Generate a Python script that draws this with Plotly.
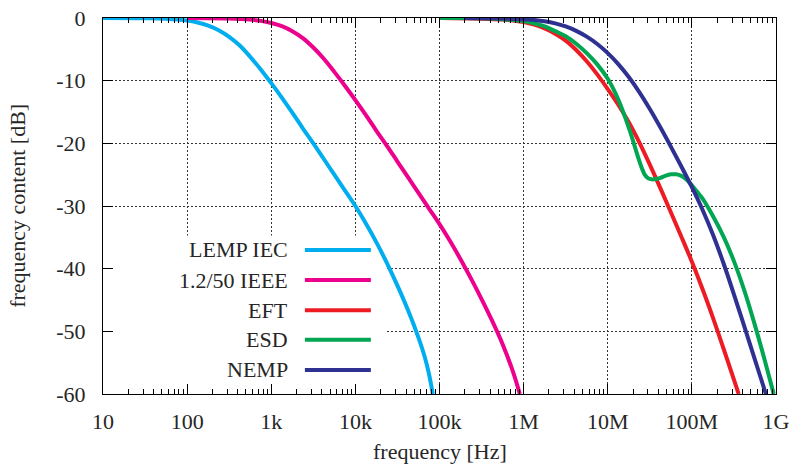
import plotly.graph_objects as go

# ---- data (frequency in Hz, spectrum in dB) ----
lemp_f = [10, 31.6, 56.2, 100, 133, 178, 237, 316, 422, 562, 750, 1000,
          1334, 1778, 2371, 3162, 4217, 5623, 7499, 10000,
          13340, 17780, 23710, 31620, 42170, 56230, 66800, 75000, 83200]
lemp_db = [0, -0.04, -0.13, -0.41, -0.71, -1.2, -1.94, -3.0, -4.4, -6.2, -8.2, -10.4,
           -12.7, -15.1, -17.6, -20.0, -22.5, -25.0, -27.5, -30.0,
           -32.8, -35.8, -39.1, -42.7, -46.6, -51.0, -54.1, -56.8, -60]

ieee_f = [100, 316, 562, 750, 1000, 1334, 1778, 2371, 3162, 4217, 5623, 7499,
          10000, 13340, 17780, 23710, 31620, 42170, 56230, 74990,
          100000, 133400, 177800, 237100, 316200, 421700, 562300, 749900, 901000]
ieee_db = [0, -0.08, -0.26, -0.46, -0.8, -1.3, -2.1, -3.2, -4.7, -6.5, -8.6, -10.8,
           -13.1, -15.5, -18.0, -20.4, -22.9, -25.4, -27.9, -30.4,
           -32.9, -35.6, -38.5, -41.6, -44.85, -48.3, -52.05, -56.5, -60]

eft_f = [1e5, 3.16e5, 5.62e5, 7.5e5, 1e6, 1.334e6, 1.778e6, 2.371e6, 3.162e6,
         4.217e6, 5.623e6, 7.499e6, 1e7, 1.334e7, 1.778e7, 2.371e7, 3.162e7,
         4.217e7, 5.623e7, 7.499e7, 1e8, 1.334e8, 1.778e8, 2.371e8, 3.162e8, 3.6e8]
eft_db = [0, -0.1, -0.25, -0.42, -0.65, -1.05, -1.65, -2.5, -3.6,
          -5.1, -6.9, -9.0, -11.35, -13.85, -16.65, -19.85, -23.4,
          -27.15, -31.0, -34.9, -38.9, -43.2, -47.8, -52.7, -57.7, -60]

esd_f = [1e5, 3.16e5, 5.62e5, 7.5e5, 1e6, 1.334e6, 1.778e6, 2.371e6, 3.162e6,
         4.217e6, 5.623e6, 7.499e6, 1e7, 1.334e7, 1.778e7, 2.371e7, 2.55e7,
         2.75e7, 3.0e7, 3.35e7, 3.75e7, 4.217e7, 4.9e7, 5.623e7, 6.5e7, 7.499e7,
         8.66e7, 1e8, 1.15e8, 1.334e8, 1.778e8, 2.371e8, 3.162e8, 4.217e8,
         5.623e8, 7.499e8, 9.4e8]
esd_db = [0, -0.03, -0.18, -0.32, -0.5, -0.85, -1.35, -2.1, -2.9,
          -4.1, -5.6, -7.4, -9.7, -13.0, -17.5, -22.8, -24.0,
          -25.0, -25.55, -25.75, -25.7, -25.5, -25.15, -24.95, -24.95, -25.2,
          -25.8, -26.7, -27.7, -28.8, -31.6, -34.85, -38.8, -43.55,
          -49.05, -55.05, -60]

nemp_f = [2e5, 4.22e5, 1e6, 1.334e6, 1.778e6, 2.371e6, 3.162e6, 4.217e6, 5.623e6,
          7.499e6, 1e7, 1.334e7, 1.778e7, 2.371e7, 3.162e7, 4.217e7, 5.623e7,
          7.499e7, 1e8, 1.334e8, 1.778e8, 2.371e8, 3.162e8, 4.217e8, 5.623e8,
          7.499e8, 7.65e8]
nemp_db = [0, -0.05, -0.2, -0.325, -0.525, -0.85, -1.35, -2.05, -2.975,
           -4.15, -5.6, -7.35, -9.425, -11.825, -14.525, -17.45, -20.525,
           -23.7, -27.0, -30.55, -34.55, -39.1, -44.1, -49.3, -54.55,
           -59.8, -60.15]

series_names = ["LEMP IEC", "1.2/50 IEEE", "EFT", "ESD", "NEMP"]
series_f = [lemp_f, ieee_f, eft_f, esd_f, nemp_f]
series_db = [lemp_db, ieee_db, eft_db, esd_db, nemp_db]
colors = ["#00AEEF", "#EC008C", "#ED1C24", "#00A651", "#2E3192"]

x_tickvals = [1e1, 1e2, 1e3, 1e4, 1e5, 1e6, 1e7, 1e8, 1e9]
x_ticktext = ["10", "100", "1k", "10k", "100k", "1M", "10M", "100M", "1G"]
y_tickvals = [0, -10, -20, -30, -40, -50, -60]
y_ticktext = ["0", "-10", "-20", "-30", "-40", "-50", "-60"]
x_minor = [m * 10 ** k for k in range(1, 9) for m in range(2, 10)]

FONT = "Liberation Serif"
FS = 22
TXT = "#262626"

fig = go.Figure()
for name, f, db, c in zip(series_names, series_f, series_db, colors):
    fig.add_trace(go.Scatter(x=f, y=db, mode="lines", name=name,
                             line=dict(color=c, width=4, shape="spline", smoothing=1.0),
                             showlegend=False))

# opaque key box (covers grid, drawn below curves)
fig.add_shape(type="rect", xref="x", yref="y",
              x0=10, x1=23200, y0=-60, y1=-34.7, layer="between",
              fillcolor="white", line=dict(width=0))

# key: text right-aligned, line sample on the right
row_y = [0.383, 0.303, 0.223, 0.144, 0.064]
for name, c, yy in zip(series_names, colors, row_y):
    fig.add_annotation(xref="paper", yref="paper", x=0.2779, y=yy,
                       text=name, showarrow=False, xanchor="right", yanchor="middle",
                       font=dict(family=FONT, size=FS, color=TXT))
    fig.add_shape(type="line", xref="paper", yref="paper",
                  x0=0.300, x1=0.398, y0=yy, y1=yy,
                  line=dict(color=c, width=4))

# axis titles
fig.add_annotation(xref="paper", yref="paper", x=0.5, y=-0.154,
                   text="frequency [Hz]", showarrow=False,
                   xanchor="center", yanchor="middle",
                   font=dict(family=FONT, size=FS, color=TXT))
fig.add_annotation(xref="paper", yref="paper", x=-0.128, y=0.5,
                   text="frequency content [dB]", showarrow=False, textangle=-90,
                   xanchor="center", yanchor="middle",
                   font=dict(family=FONT, size=FS, color=TXT))

fig.update_xaxes(type="log", range=[1, 9], tickmode="array",
                 tickvals=x_tickvals, ticktext=x_ticktext,
                 ticks="inside", ticklen=10, tickcolor="black", tickwidth=1,
                 showline=True, linecolor="black", linewidth=1, mirror="allticks",
                 showgrid=True, gridcolor="#333333", gridwidth=1, griddash="2px,2px",
                 zeroline=False, ticklabelstandoff=8,
                 minor=dict(tickmode="array", tickvals=x_minor, ticks="inside",
                            ticklen=5, tickcolor="black", tickwidth=1, showgrid=False),
                 tickfont=dict(family=FONT, size=FS, color=TXT))
fig.update_yaxes(range=[-60, 0], tickmode="array",
                 tickvals=y_tickvals, ticktext=y_ticktext,
                 ticks="inside", ticklen=10, tickcolor="black", tickwidth=1,
                 showline=True, linecolor="black", linewidth=1, mirror="allticks",
                 showgrid=True, gridcolor="#333333", gridwidth=1, griddash="2px,2px",
                 zeroline=False, ticklabelstandoff=12,
                 tickfont=dict(family=FONT, size=FS, color=TXT))

fig.update_layout(width=791, height=464,
                  margin=dict(l=103, r=15, t=18, b=70, autoexpand=False),
                  paper_bgcolor="white", plot_bgcolor="white",
                  showlegend=False)

fig.write_html("out.html")
